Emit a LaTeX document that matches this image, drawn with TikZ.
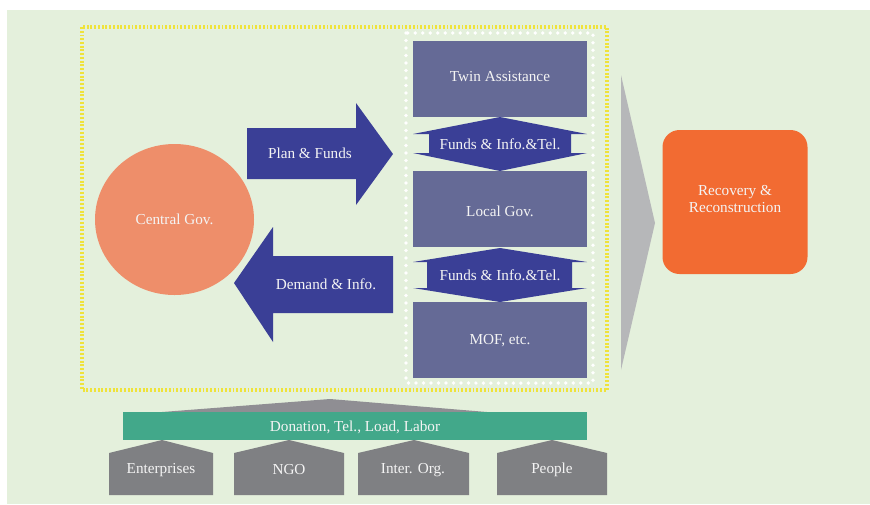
\documentclass[tikz,border=0pt]{standalone}
\usepackage{fontspec}
\setmainfont{Liberation Serif}
\usetikzlibrary{shapes.geometric}

\definecolor{bgreen}{HTML}{E4F0DC}
\definecolor{boxpurple}{HTML}{656A96}
\definecolor{arrowblue}{HTML}{3A3F96}
\definecolor{circorange}{HTML}{EE8E6A}
\definecolor{recorange}{HTML}{F26B32}
\definecolor{lightgray}{HTML}{B6B7B9}
\definecolor{darkgray}{HTML}{7F8083}
\definecolor{midgray}{HTML}{8F8E93}
\definecolor{barteal}{HTML}{42A88A}
\definecolor{dotyellow}{HTML}{EFE33A}
\definecolor{txtwhite}{HTML}{F4F4F4}

\tikzset{
  lbl/.style={text=txtwhite, font=\fontsize{13}{14.5}\selectfont, inner sep=0pt, align=center},
  govbox/.style={fill=boxpurple},
  bluearrow/.style={fill=arrowblue},
  house/.style={fill=darkgray}
}

\begin{document}
\begin{tikzpicture}[x=0.3mm, y=-0.3mm]

  \useasboundingbox (0,0) rectangle (870,504);
  \fill[white] (0,0) rectangle (870,504);
  \fill[bgreen] (7,10) rectangle (870,504);

  % dotted frames
  \draw[dotyellow, line width=3pt, dash pattern=on 1.6pt off 1.6pt] (82,27) rectangle (607,390);
  \draw[white, line width=3.2pt, line cap=round, dash pattern=on 0pt off 6.4pt] (406,33) rectangle (593,383);

  % central government
  \node[ellipse, fill=circorange, minimum width=159*0.3mm, minimum height=151*0.3mm, inner sep=0pt] (cgov) at (174.5,219.5) {};
  \node[lbl] (cgovtxt) at (cgov.center) {Central Gov.};

  % plan & funds arrow
  \fill[bluearrow] (247,128) -- (356,128) -- (356,103) -- (393,154) -- (356,205)
    -- (356,179) -- (247,179) -- cycle;
  \node[lbl] (plan) at (310,153) {Plan \& Funds};

  % demand & info arrow
  \fill[bluearrow] (393,256) -- (273,256) -- (273,227) -- (234,283) -- (273,342)
    -- (273,313) -- (393,313) -- cycle;
  \node[lbl] (demand) at (326,284) {Demand \& Info.};

  % boxes on the right
  \fill[govbox] (413,41) rectangle (587,117);
  \node[lbl] (twin) at (500,77) {Twin Assistance};
  \fill[govbox] (413,171) rectangle (587,247);
  \node[lbl] (local) at (500,211) {Local Gov.};
  \fill[govbox] (413,302) rectangle (587,378);
  \node[lbl] (mof) at (500,341) {MOF, etc.};

  % double arrows between the boxes
  \fill[bluearrow] (500,117) -- (587,134) -- (571,134) -- (571,153) -- (587,153)
    -- (500,171) -- (413,153) -- (429,153) -- (429,134) -- (413,134) -- cycle;
  \node[lbl] (funds1) at (500,144) {Funds \& Info.\&Tel.};
  \fill[bluearrow] (500,248) -- (587,262) -- (572,262) -- (572,288) -- (587,288)
    -- (500,302) -- (413,288) -- (427,288) -- (427,262) -- (413,262) -- cycle;
  \node[lbl] (funds2) at (500,275) {Funds \& Info.\&Tel.};

  % big grey arrow and result
  \fill[lightgray] (621,75) -- (655,223) -- (621,370) -- cycle;
  \node[fill=recorange, rounded corners=17*0.3mm, minimum width=145*0.3mm,
    minimum height=144*0.3mm, inner sep=0pt] (recbox) at (735,202) {};
  \node[lbl] (rectxt) at (735,199) {Recovery \&\\Reconstruction};

  % bottom: support from society
  \fill[midgray] (162,412) -- (330,399) -- (487,412) -- cycle;
  \fill[barteal] (123,412) rectangle (587,440);
  \node[lbl] (donation) at (355,427) {Donation, Tel., Load, Labor};

  \fill[house] (109,453) -- (162,440) -- (213,453) -- (213,495) -- (109,495) -- cycle;
  \node[lbl] (ent) at (161,470) {Enterprises};
  \fill[house] (234,453) -- (289,440) -- (344,453) -- (344,495) -- (234,495) -- cycle;
  \node[lbl] (ngo) at (289,470) {NGO};
  \fill[house] (358,453) -- (414,440) -- (469,453) -- (469,495) -- (358,495) -- cycle;
  \node[lbl] (inter) at (413,470) {Inter. Org.};
  \fill[house] (497,453) -- (552,440) -- (607,453) -- (607,495) -- (497,495) -- cycle;
  \node[lbl] (people) at (552,470) {People};

\end{tikzpicture}
\end{document}
